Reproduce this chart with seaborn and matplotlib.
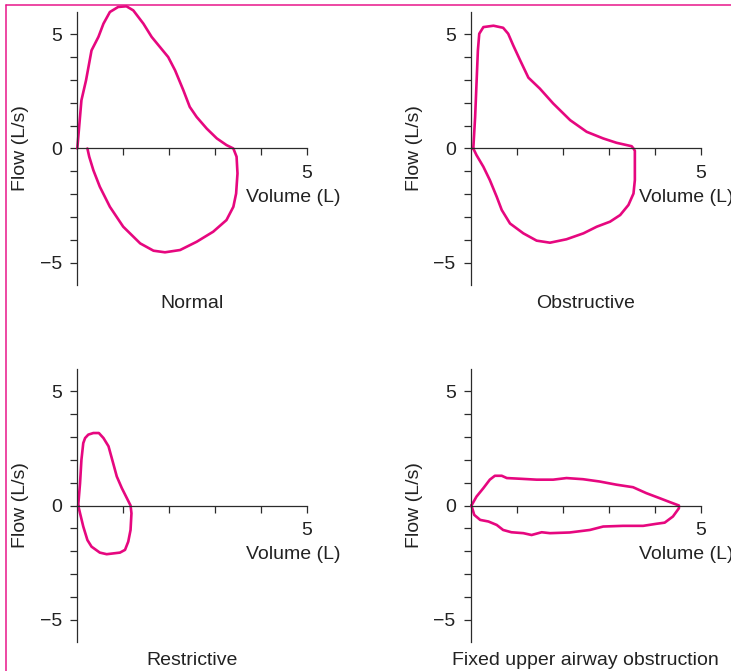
import matplotlib
matplotlib.use("Agg")
import matplotlib.pyplot as plt
import seaborn as sns
from matplotlib.lines import Line2D

# ---- data (volume in L, flow in L/s) ----
normal_vol = [0.00, 0.09, 0.19, 0.31, 0.46, 0.57, 0.71, 0.89, 1.07, 1.22, 1.44, 1.62, 1.80, 1.98,
              2.13, 2.31, 2.45, 2.60, 2.82, 3.04, 3.25, 3.40,
              3.47, 3.49, 3.46, 3.40, 3.25, 2.96, 2.60, 2.24, 1.91, 1.66, 1.37, 1.00, 0.71, 0.49,
              0.35, 0.26, 0.22]
normal_flow = [0.00, 2.11, 2.98, 4.29, 4.88, 5.46, 5.97, 6.19, 6.22, 6.04, 5.46, 4.88, 4.44, 4.00,
               3.42, 2.55, 1.82, 1.38, 0.87, 0.44, 0.15, 0.00,
               -0.36, -1.09, -1.97, -2.55, -3.13, -3.64, -4.08, -4.44, -4.54, -4.47, -4.15, -3.42,
               -2.55, -1.67, -0.95, -0.36, 0.00]

obstr_vol = [0.05, 0.09, 0.12, 0.15, 0.18, 0.27, 0.49, 0.70, 0.81, 0.92, 1.07, 1.25, 1.50, 1.79,
             2.16, 2.52, 2.88, 3.17, 3.50, 3.54,
             3.57, 3.57, 3.57, 3.54, 3.43, 3.25, 3.03, 2.74, 2.45, 2.08, 1.72, 1.43, 1.14, 0.85,
             0.67, 0.56, 0.41, 0.27, 0.12, 0.05]
obstr_flow = [0.00, 1.38, 2.84, 4.29, 5.02, 5.31, 5.37, 5.28, 5.02, 4.51, 3.86, 3.10, 2.62, 1.97,
              1.24, 0.73, 0.44, 0.25, 0.10, 0.00,
              -0.10, -0.80, -1.38, -1.97, -2.47, -2.91, -3.20, -3.42, -3.71, -3.97, -4.12, -4.03,
              -3.71, -3.28, -2.69, -2.11, -1.38, -0.80, -0.29, 0.00]

restr_vol = [0.02, 0.06, 0.09, 0.13, 0.17, 0.24, 0.35, 0.47, 0.57, 0.68, 0.78, 0.86, 0.97, 1.08,
             1.16, 1.18, 1.16, 1.11, 1.04, 0.93, 0.64, 0.49, 0.31, 0.22, 0.13, 0.06, 0.02]
restr_flow = [0.00, 0.98, 2.00, 2.73, 2.95, 3.10, 3.17, 3.17, 2.95, 2.59, 1.86, 1.27, 0.76, 0.32,
              0.00, -0.34, -1.07, -1.58, -1.94, -2.06, -2.13, -2.06, -1.80, -1.51, -0.92, -0.34,
              0.00]

fixed_vol = [0.01, 0.12, 0.27, 0.41, 0.52, 0.67, 0.78, 1.07, 1.43, 1.79, 2.08, 2.44, 2.80, 3.17,
             3.53, 3.82, 4.11, 4.33, 4.53,
             4.53, 4.40, 4.22, 4.04, 3.75, 3.31, 2.88, 2.59, 2.15, 1.72, 1.54, 1.32, 1.14, 0.88,
             0.70, 0.56, 0.38, 0.20, 0.07, 0.01]
fixed_flow = [0.00, 0.39, 0.76, 1.13, 1.30, 1.30, 1.20, 1.17, 1.13, 1.13, 1.20, 1.15, 1.05, 0.91,
              0.80, 0.54, 0.32, 0.15, 0.00,
              -0.12, -0.48, -0.75, -0.80, -0.89, -0.89, -0.92, -1.07, -1.18, -1.21, -1.17, -1.29,
              -1.21, -1.17, -1.07, -0.85, -0.70, -0.63, -0.41, 0.00]

titles = ["Normal", "Obstructive", "Restrictive", "Fixed upper airway obstruction"]
x_ticks = [1, 2, 3, 4, 5]
x_ticklabels = ["", "", "", "", "5"]
y_ticks = [-5, -4, -3, -2, -1, 0, 1, 2, 3, 4, 5]
y_ticklabels = ["\u22125", "", "", "", "", "0", "", "", "", "", "5"]

# ---- style ----
sns.set_style("ticks")
plt.rcParams["font.family"] = ["Liberation Sans", "DejaVu Sans"]
plt.rcParams["font.size"] = 14

LINE = "#E6077F"
FRAME = "#E8168A"
AX = "#2b2b2b"

W, H = 731, 671
fig = plt.figure(figsize=(W / 100, H / 100), dpi=100)

panels = [
    (normal_vol, normal_flow, 77.3, 12),
    (obstr_vol, obstr_flow, 471, 12),
    (restr_vol, restr_flow, 77.3, 369),
    (fixed_vol, fixed_flow, 471, 369),
]
aw, ah = 229.5, 273

for (vol, flow, left_px, top_px), title in zip(panels, titles):
    ax = fig.add_axes([left_px / W, 1 - (top_px + ah) / H, aw / W, ah / H])
    sns.lineplot(x=vol, y=flow, sort=False, estimator=None, color=LINE,
                 linewidth=1.9, ax=ax)
    for ln in ax.lines:
        ln.set_clip_on(False)
        ln.set_solid_joinstyle("round")
        ln.set_solid_capstyle("round")
    ax.set_xlim(0, 5)
    ax.set_ylim(-5.97, 5.97)
    ax.set_facecolor("none")
    for s in ["top", "right"]:
        ax.spines[s].set_visible(False)
    ax.spines["bottom"].set_position(("data", 0))
    ax.spines["left"].set_position(("data", 0))
    for s in ["bottom", "left"]:
        ax.spines[s].set_color(AX)
        ax.spines[s].set_linewidth(0.9)
    ax.set_xticks(x_ticks)
    ax.set_xticklabels(x_ticklabels)
    ax.set_yticks(y_ticks)
    ax.set_yticklabels(y_ticklabels)
    ax.tick_params(axis="x", which="major", bottom=True, top=False, direction="out",
                   length=5, width=0.9, color=AX, pad=7, labelsize=14,
                   labelcolor="#222222")
    ax.tick_params(axis="y", which="major", left=True, right=False, direction="out",
                   length=5, width=0.9, color=AX, pad=6, labelsize=14,
                   labelcolor="#222222")
    ax.set_xlabel("Volume (L)", fontsize=14, color="#222222", ha="center", va="top")
    ax.xaxis.set_label_coords(0.94, 0.352)
    ax.set_ylabel("Flow (L/s)", fontsize=14, color="#222222")
    ax.yaxis.set_label_coords(-0.209, 0.5)
    ax.text(0.5, -0.035, title, transform=ax.transAxes, ha="center", va="top",
            fontsize=14, color="#222222")

# magenta frame (top and left edges visible)
fig.add_artist(Line2D([6 / W, 1.01], [1 - 5 / H, 1 - 5 / H], transform=fig.transFigure,
                      color=FRAME, linewidth=1.1))
fig.add_artist(Line2D([6 / W, 6 / W], [-0.01, 1 - 5 / H], transform=fig.transFigure,
                      color=FRAME, linewidth=1.1))

fig.savefig("out.png", dpi=100)
